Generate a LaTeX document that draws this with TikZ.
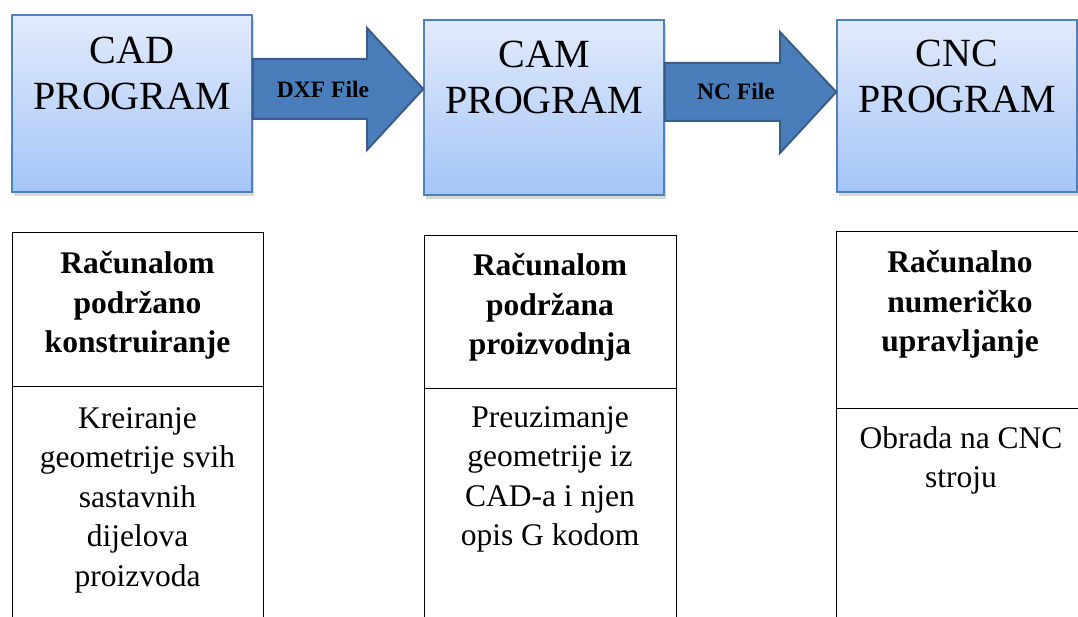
\documentclass[tikz,border=0pt]{standalone}
\usepackage{fontspec}
\setmainfont{Liberation Serif}
\usetikzlibrary{shadows,calc}
\definecolor{boxtop}{RGB}{226,235,252}
\definecolor{boxbot}{RGB}{164,197,247}
\definecolor{boxline}{RGB}{79,129,189}
\definecolor{arrfill}{RGB}{74,126,187}
\definecolor{arrline}{RGB}{56,93,138}
\tikzset{
  progbox/.style={draw=boxline, line width=1.5pt, top color=boxtop, bottom color=boxbot,
    minimum width=240pt, inner sep=0pt,
    drop shadow={opacity=0.3, shadow xshift=2pt, shadow yshift=-4pt}},
  blockarrow/.style={draw=arrline, fill=arrfill, line width=2pt, line join=miter},
  arrlabel/.style={inner sep=0pt, font=\bfseries\fontsize{23.5}{28}\selectfont},
  ptext/.style={anchor=base, inner sep=0pt, font=\fontsize{40}{46}\selectfont},
  hdr/.style={anchor=base, inner sep=0pt, font=\bfseries\fontsize{31.5}{39.3}\selectfont},
  bodytext/.style={anchor=base, inner sep=0pt, font=\fontsize{31.5}{39.5}\selectfont},
  frame/.style={draw=black, line width=1pt}
}
\begin{document}
\begin{tikzpicture}[x=1pt,y=-1pt]
\useasboundingbox (0,0) rectangle (1078,617);
% program boxes
\node[progbox, minimum height=177pt] (cad) at (132,103.5) {};
\node[progbox, minimum height=175pt] (cam) at (544,107.5) {};
\node[progbox, minimum height=172pt] (cnc) at (957,106) {};
\node[ptext] (cadt) at (132,64) {\parbox[t]{240pt}{\centering CAD\\PROGRAM}};
\node[ptext] (camt) at (544,68) {\parbox[t]{240pt}{\centering CAM\\PROGRAM}};
\node[ptext] (cnct) at (957,67) {\parbox[t]{240pt}{\centering CNC\\PROGRAM}};
% block arrows
\draw[blockarrow] (cad.east |- 0,59) -- (367,59) -- (367,28) -- (cam.west |- 0,89)
  -- (367,150) -- (367,119) -- (cad.east |- 0,119) -- cycle;
\draw[blockarrow] (cam.east |- 0,63) -- (780,63) -- (780,32) -- (cnc.west |- 0,92)
  -- (780,153) -- (780,121) -- (cam.east |- 0,121) -- cycle;
\node[arrlabel] (dxf) at (323,89) {DXF File};
\node[arrlabel] (nc) at (736,91) {NC File};
% description tables
\draw[frame] (12,622) -- (12,233) -- (263,233) -- (263,622);
\draw[frame] (12,386) -- (263,386);
\draw[frame] (424,622) -- (424,236) -- (676,236) -- (676,622);
\draw[frame] (424,388) -- (676,388);
\draw[frame] (836,622) -- (836,232) -- (1080,232);
\draw[frame] (836,408) -- (1080,408);
\node[hdr] (h1) at (137.5,274) {\parbox[t]{250pt}{\centering Računalom\\podržano\\konstruiranje}};
\node[bodytext] (b1) at (137.5,428) {\parbox[t]{250pt}{\centering Kreiranje\\geometrije svih\\sastavnih\\dijelova\\proizvoda}};
\node[hdr] (h2) at (550,276) {\parbox[t]{250pt}{\centering Računalom\\podržana\\proizvodnja}};
\node[bodytext] (b2) at (550,427) {\parbox[t]{250pt}{\centering Preuzimanje\\geometrije iz\\CAD-a i njen\\opis G kodom}};
\node[hdr] (h3) at (960,273) {\parbox[t]{250pt}{\centering Računalno\\numeričko\\upravljanje}};
\node[bodytext] (b3) at (961,448) {\parbox[t]{250pt}{\centering Obrada na CNC\\stroju}};
\end{tikzpicture}
\end{document}
